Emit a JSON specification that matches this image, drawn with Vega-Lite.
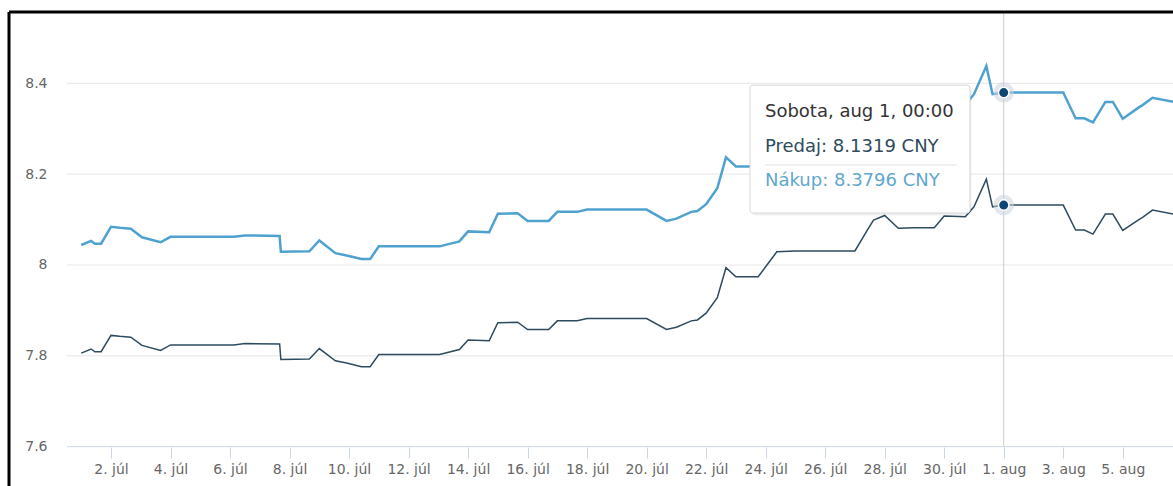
{
  "$schema": "https://vega.github.io/schema/vega-lite/v6.json",
  "autosize": {"type": "none"},
  "padding": {"left": 9, "top": 12, "right": 0, "bottom": 0},
  "width": 1164,
  "height": 474,
  "background": "white",
  "config": {
    "view": {"stroke": null},
    "font": "DejaVu Sans",
    "axisX": {"domain": false, "grid": false, "ticks": true, "tickSize": 11, "tickColor": "#ccd6eb", "tickWidth": 1,
      "labelFont": "DejaVu Sans", "labelFontSize": 14, "labelColor": "#666666", "labelPadding": 4,
      "labelOverlap": false, "labelFlush": false, "title": null, "offset": -39},
    "axisY": {"domain": false, "grid": false, "ticks": false,
      "labelFont": "DejaVu Sans", "labelFontSize": 14, "labelColor": "#666666", "labelPadding": 2,
      "title": null, "offset": -40}
  },
  "datasets": {
    "rates": [
      {"d": "2020-07-01T00:00:00", "predaj": 7.806, "nakup": 8.044},
      {"d": "2020-07-01T08:00:00", "predaj": 7.815, "nakup": 8.053},
      {"d": "2020-07-01T11:00:00", "predaj": 7.809, "nakup": 8.047},
      {"d": "2020-07-01T16:00:00", "predaj": 7.809, "nakup": 8.047},
      {"d": "2020-07-02T00:00:00", "predaj": 7.845, "nakup": 8.084},
      {"d": "2020-07-02T07:00:00", "predaj": 7.843, "nakup": 8.082},
      {"d": "2020-07-02T16:00:00", "predaj": 7.841, "nakup": 8.080},
      {"d": "2020-07-03T01:00:00", "predaj": 7.823, "nakup": 8.061},
      {"d": "2020-07-03T16:00:00", "predaj": 7.812, "nakup": 8.050},
      {"d": "2020-07-04T00:00:00", "predaj": 7.824, "nakup": 8.062},
      {"d": "2020-07-06T03:00:00", "predaj": 7.824, "nakup": 8.062},
      {"d": "2020-07-06T12:00:00", "predaj": 7.827, "nakup": 8.065},
      {"d": "2020-07-07T16:00:00", "predaj": 7.826, "nakup": 8.064},
      {"d": "2020-07-07T17:00:00", "predaj": 7.792, "nakup": 8.029},
      {"d": "2020-07-08T16:00:00", "predaj": 7.793, "nakup": 8.030},
      {"d": "2020-07-09T00:00:00", "predaj": 7.816, "nakup": 8.054},
      {"d": "2020-07-09T13:00:00", "predaj": 7.789, "nakup": 8.026},
      {"d": "2020-07-09T22:00:00", "predaj": 7.784, "nakup": 8.021},
      {"d": "2020-07-10T10:00:00", "predaj": 7.776, "nakup": 8.013},
      {"d": "2020-07-10T17:00:00", "predaj": 7.776, "nakup": 8.013},
      {"d": "2020-07-11T00:00:00", "predaj": 7.803, "nakup": 8.041},
      {"d": "2020-07-13T01:00:00", "predaj": 7.803, "nakup": 8.041},
      {"d": "2020-07-13T17:00:00", "predaj": 7.814, "nakup": 8.052},
      {"d": "2020-07-14T00:00:00", "predaj": 7.835, "nakup": 8.074},
      {"d": "2020-07-14T17:00:00", "predaj": 7.833, "nakup": 8.072},
      {"d": "2020-07-15T00:00:00", "predaj": 7.873, "nakup": 8.113},
      {"d": "2020-07-15T16:00:00", "predaj": 7.874, "nakup": 8.114},
      {"d": "2020-07-16T00:00:00", "predaj": 7.858, "nakup": 8.097},
      {"d": "2020-07-16T17:00:00", "predaj": 7.858, "nakup": 8.097},
      {"d": "2020-07-17T00:00:00", "predaj": 7.877, "nakup": 8.117},
      {"d": "2020-07-17T16:00:00", "predaj": 7.877, "nakup": 8.117},
      {"d": "2020-07-18T00:00:00", "predaj": 7.882, "nakup": 8.122},
      {"d": "2020-07-20T00:00:00", "predaj": 7.882, "nakup": 8.122},
      {"d": "2020-07-20T16:00:00", "predaj": 7.858, "nakup": 8.097},
      {"d": "2020-07-21T00:00:00", "predaj": 7.863, "nakup": 8.102},
      {"d": "2020-07-21T12:00:00", "predaj": 7.877, "nakup": 8.117},
      {"d": "2020-07-21T17:00:00", "predaj": 7.879, "nakup": 8.119},
      {"d": "2020-07-22T00:00:00", "predaj": 7.894, "nakup": 8.134},
      {"d": "2020-07-22T09:00:00", "predaj": 7.928, "nakup": 8.169},
      {"d": "2020-07-22T16:00:00", "predaj": 7.994, "nakup": 8.237},
      {"d": "2020-07-23T00:00:00", "predaj": 7.974, "nakup": 8.217},
      {"d": "2020-07-23T18:00:00", "predaj": 7.974, "nakup": 8.217},
      {"d": "2020-07-24T00:00:00", "predaj": 7.996, "nakup": 8.240},
      {"d": "2020-07-24T09:00:00", "predaj": 8.029, "nakup": 8.273},
      {"d": "2020-07-25T00:00:00", "predaj": 8.031, "nakup": 8.276},
      {"d": "2020-07-27T00:00:00", "predaj": 8.031, "nakup": 8.276},
      {"d": "2020-07-27T10:00:00", "predaj": 8.077, "nakup": 8.323},
      {"d": "2020-07-27T15:00:00", "predaj": 8.099, "nakup": 8.346},
      {"d": "2020-07-28T00:00:00", "predaj": 8.109, "nakup": 8.356},
      {"d": "2020-07-28T11:00:00", "predaj": 8.081, "nakup": 8.327},
      {"d": "2020-07-29T00:00:00", "predaj": 8.082, "nakup": 8.328},
      {"d": "2020-07-29T16:00:00", "predaj": 8.082, "nakup": 8.328},
      {"d": "2020-07-30T00:00:00", "predaj": 8.108, "nakup": 8.355},
      {"d": "2020-07-30T17:00:00", "predaj": 8.106, "nakup": 8.353},
      {"d": "2020-07-31T00:00:00", "predaj": 8.128, "nakup": 8.376},
      {"d": "2020-07-31T10:00:00", "predaj": 8.189, "nakup": 8.438},
      {"d": "2020-07-31T15:00:00", "predaj": 8.128, "nakup": 8.376},
      {"d": "2020-08-01T00:00:00", "predaj": 8.1319, "nakup": 8.3796},
      {"d": "2020-08-03T00:00:00", "predaj": 8.1319, "nakup": 8.3796},
      {"d": "2020-08-03T10:00:00", "predaj": 8.077, "nakup": 8.323},
      {"d": "2020-08-03T17:00:00", "predaj": 8.077, "nakup": 8.323},
      {"d": "2020-08-04T00:00:00", "predaj": 8.068, "nakup": 8.314},
      {"d": "2020-08-04T10:00:00", "predaj": 8.112, "nakup": 8.359},
      {"d": "2020-08-04T16:00:00", "predaj": 8.112, "nakup": 8.359},
      {"d": "2020-08-05T00:00:00", "predaj": 8.076, "nakup": 8.322},
      {"d": "2020-08-05T13:00:00", "predaj": 8.100, "nakup": 8.347},
      {"d": "2020-08-05T16:00:00", "predaj": 8.105, "nakup": 8.352},
      {"d": "2020-08-06T00:00:00", "predaj": 8.121, "nakup": 8.368},
      {"d": "2020-08-06T17:00:00", "predaj": 8.112, "nakup": 8.359},
      {"d": "2020-08-07T00:00:00", "predaj": 8.108, "nakup": 8.355}
    ],
    "grid": [{"v": 8.4}, {"v": 8.2}, {"v": 8.0}, {"v": 7.8}],
    "one": [{}],
    "hover": [
      {"d": "2020-08-01T00:00:00", "v": 8.1319},
      {"d": "2020-08-01T00:00:00", "v": 8.3796}
    ],
    "tip": [
      {"line": "Sobota, aug 1, 00:00", "v": 8.3368, "c": "#333333"},
      {"line": "Predaj: 8.1319 CNY", "v": 8.2598, "c": "#2e4a5c"},
      {"line": "Nákup: 8.3796 CNY", "v": 8.1849, "c": "#5fa7cf"}
    ]
  },
  "layer": [
    {
      "data": {"name": "rates"},
      "mark": {"type": "line", "stroke": "#2d4b5f", "strokeWidth": 1.5, "clip": true, "opacity": 0},
      "encoding": {
        "x": {"field": "d", "type": "temporal", "title": null,
          "scale": {"domain": [{"year": 2020, "month": 6, "date": 28, "hours": 13, "minutes": 44}, {"year": 2020, "month": 8, "date": 6, "hours": 16, "minutes": 32}]},
          "axis": {
            "values": [
              {"year": 2020, "month": 7, "date": 2}, {"year": 2020, "month": 7, "date": 4},
              {"year": 2020, "month": 7, "date": 6}, {"year": 2020, "month": 7, "date": 8},
              {"year": 2020, "month": 7, "date": 10}, {"year": 2020, "month": 7, "date": 12},
              {"year": 2020, "month": 7, "date": 14}, {"year": 2020, "month": 7, "date": 16},
              {"year": 2020, "month": 7, "date": 18}, {"year": 2020, "month": 7, "date": 20},
              {"year": 2020, "month": 7, "date": 22}, {"year": 2020, "month": 7, "date": 24},
              {"year": 2020, "month": 7, "date": 26}, {"year": 2020, "month": 7, "date": 28},
              {"year": 2020, "month": 7, "date": 30}, {"year": 2020, "month": 8, "date": 1},
              {"year": 2020, "month": 8, "date": 3}, {"year": 2020, "month": 8, "date": 5}
            ],
            "labelExpr": "timeFormat(datum.value, '%-d') + '. ' + (month(datum.value) == 6 ? 'júl' : 'aug')"
          }
        },
        "y": {"field": "predaj", "type": "quantitative", "title": null,
          "scale": {"domain": [7.5134, 8.557], "nice": false, "zero": false},
          "axis": {"values": [7.6, 7.8, 8.0, 8.2, 8.4], "labelExpr": "format(datum.value, '~g')"}
        }
      }
    },
    {
      "data": {"name": "grid"},
      "mark": {"type": "rule", "stroke": "#e6e6e6", "strokeWidth": 1},
      "encoding": {
        "x": {"datum": {"year": 2020, "month": 6, "date": 30, "hours": 12, "minutes": 31}, "type": "temporal", "title": null},
        "x2": {"datum": {"year": 2020, "month": 8, "date": 7, "hours": 12}},
        "y": {"field": "v", "type": "quantitative", "title": null}
      }
    },
    {
      "data": {"name": "one"},
      "mark": {"type": "rule", "stroke": "#ccd6eb", "strokeWidth": 1},
      "encoding": {
        "x": {"datum": {"year": 2020, "month": 6, "date": 30, "hours": 12, "minutes": 31}, "type": "temporal", "title": null},
        "x2": {"datum": {"year": 2020, "month": 8, "date": 7, "hours": 12}},
        "y": {"datum": 7.6, "type": "quantitative", "title": null}
      }
    },
    {
      "data": {"name": "one"},
      "mark": {"type": "rule", "stroke": "#cccccc", "strokeWidth": 1},
      "encoding": {
        "x": {"datum": {"year": 2020, "month": 8, "date": 1}, "type": "temporal", "title": null},
        "y": {"datum": 7.6, "type": "quantitative", "title": null},
        "y2": {"datum": 8.557}
      }
    },
    {
      "data": {"name": "rates"},
      "mark": {"type": "line", "stroke": "#2d4b5f", "strokeWidth": 1.5, "clip": true},
      "encoding": {
        "x": {"field": "d", "type": "temporal", "title": null},
        "y": {"field": "predaj", "type": "quantitative", "title": null}
      }
    },
    {
      "data": {"name": "rates"},
      "mark": {"type": "line", "stroke": "#4fa2d0", "strokeWidth": 2.5, "clip": true},
      "encoding": {
        "x": {"field": "d", "type": "temporal", "title": null},
        "y": {"field": "nakup", "type": "quantitative", "title": null}
      }
    },
    {
      "data": {"name": "one"},
      "mark": {"type": "rect", "fill": "#000000", "opacity": 0.06, "cornerRadius": 4},
      "encoding": {
        "x": {"datum": {"year": 2020, "month": 7, "date": 23, "hours": 12, "minutes": 30}, "type": "temporal", "title": null},
        "x2": {"datum": {"year": 2020, "month": 7, "date": 30, "hours": 22, "minutes": 0}},
        "y": {"datum": 8.392, "type": "quantitative", "title": null},
        "y2": {"datum": 8.109}
      }
    },
    {
      "data": {"name": "one"},
      "mark": {"type": "rect", "fill": "#ffffff", "stroke": "#d6d6d6", "strokeWidth": 1, "cornerRadius": 3},
      "encoding": {
        "x": {"datum": {"year": 2020, "month": 7, "date": 23, "hours": 11, "minutes": 22}, "type": "temporal", "title": null},
        "x2": {"datum": {"year": 2020, "month": 7, "date": 30, "hours": 20, "minutes": 48}},
        "y": {"datum": 8.396, "type": "quantitative", "title": null},
        "y2": {"datum": 8.1144}
      }
    },
    {
      "data": {"name": "one"},
      "mark": {"type": "rule", "stroke": "#e3e3e3", "strokeWidth": 1},
      "encoding": {
        "x": {"datum": {"year": 2020, "month": 7, "date": 23, "hours": 23, "minutes": 28}, "type": "temporal", "title": null},
        "x2": {"datum": {"year": 2020, "month": 7, "date": 30, "hours": 10, "minutes": 19}},
        "y": {"datum": 8.2202, "type": "quantitative", "title": null}
      }
    },
    {
      "data": {"name": "tip"},
      "mark": {"type": "text", "align": "left", "baseline": "middle", "font": "DejaVu Sans", "fontSize": 18},
      "encoding": {
        "x": {"datum": {"year": 2020, "month": 7, "date": 23, "hours": 23, "minutes": 28}, "type": "temporal", "title": null},
        "y": {"field": "v", "type": "quantitative", "title": null},
        "text": {"field": "line"},
        "color": {"field": "c", "type": "nominal", "scale": null, "legend": null}
      }
    },
    {
      "data": {"name": "hover"},
      "mark": {"type": "point", "filled": true, "fill": "#c9d3de", "opacity": 0.55, "size": 420, "strokeWidth": 0},
      "encoding": {
        "x": {"field": "d", "type": "temporal", "title": null},
        "y": {"field": "v", "type": "quantitative", "title": null}
      }
    },
    {
      "data": {"name": "hover"},
      "mark": {"type": "point", "filled": true, "fill": "#0d4675", "stroke": "#ffffff", "strokeWidth": 1.5, "opacity": 1, "size": 110},
      "encoding": {
        "x": {"field": "d", "type": "temporal", "title": null},
        "y": {"field": "v", "type": "quantitative", "title": null}
      }
    },
    {
      "data": {"name": "one"},
      "mark": {"type": "rule", "stroke": "#000000", "strokeWidth": 3},
      "encoding": {
        "x": {"datum": {"year": 2020, "month": 6, "date": 28, "hours": 13, "minutes": 44}, "type": "temporal", "title": null}
      }
    },
    {
      "data": {"name": "one"},
      "mark": {"type": "rule", "stroke": "#000000", "strokeWidth": 3},
      "encoding": {
        "y": {"datum": 8.557, "type": "quantitative", "title": null}
      }
    }
  ]
}
